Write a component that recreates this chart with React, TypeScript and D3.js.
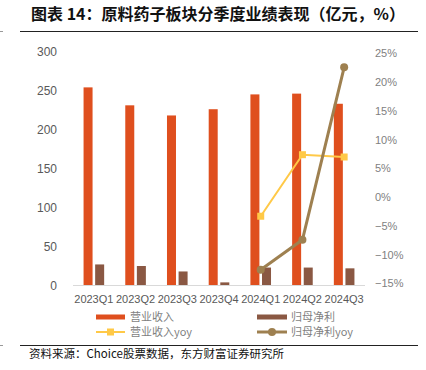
import React from 'react';
import * as d3 from 'd3';

const quarters = ['2023Q1', '2023Q2', '2023Q3', '2023Q4', '2024Q1', '2024Q2', '2024Q3'];
const revenue = [254, 231, 218, 226, 245, 246, 233];
const netProfit = [27, 25, 18, 4, 23, 23, 22];
const revenueYoy = [null, null, null, null, -3.3, 7.4, 7.0];
const profitYoy = [null, null, null, null, -12.6, -7.4, 22.6];
const leftTicks = [0, 50, 100, 150, 200, 250, 300];
const rightTicks = [-15, -10, -5, 0, 5, 10, 15, 20, 25];

const W = 426;
const H = 370;
const FONT = '"Noto Sans CJK SC", "Noto Sans", sans-serif';
const NUM = '"Liberation Sans", Arial, sans-serif';
const C_REV = '#DF4F1E';
const C_NP = '#8A5843';
const C_REVY = '#FFC947';
const C_NPY = '#9E8050';

const App = () => {
  const x = d3.scaleBand().domain(quarters).range([73, 365]);
  const yL = d3.scaleLinear().domain([0, 300]).range([285.5, 51.5]);
  const yR = d3.scaleLinear().domain([-15, 25]).range([283.5, 53.5]);
  const cx = (q: string) => (x(q) as number) + x.bandwidth() / 2;
  const bw = 9;
  const gap = 1.3;

  const revPts = quarters
    .map((q, i) => [cx(q), revenueYoy[i]] as [number, number | null])
    .filter(d => d[1] !== null) as [number, number][];
  const npPts = quarters
    .map((q, i) => [cx(q), profitYoy[i]] as [number, number | null])
    .filter(d => d[1] !== null) as [number, number][];
  const line = d3.line<[number, number]>().x(d => d[0]).y(d => yR(d[1]));

  return (
    <svg width={W} height={H} style={{ position: 'absolute', left: 0, top: 0, background: '#fff' }} fontFamily={FONT}>
      <text x={31} y={20} fontSize={16} fontWeight="bold" fill="#111">图表 14：原料药子板块分季度业绩表现（亿元，%）</text>
      <line x1={20} x2={418} y1={31.5} y2={31.5} stroke="#222" strokeWidth={1} />
      <line x1={0} x2={3} y1={31.5} y2={31.5} stroke="#999" strokeWidth={1} />

      {leftTicks.map(t => (
        <text key={'l' + t} x={57} y={yL(t)} dy="0.35em" textAnchor="end" fontSize={12} fontFamily={NUM} fill="#595959">{t}</text>
      ))}
      {rightTicks.map(t => (
        <text key={'r' + t} x={375} y={yR(t)} dy="0.35em" fontSize={11} fontFamily={NUM} fill="#7F7F7F">
          {(t < 0 ? '\u2212' + Math.abs(t) : t) + '%'}
        </text>
      ))}

      {quarters.map((q, i) => (
        <g key={q}>
          <rect x={cx(q) - gap - bw} y={yL(revenue[i])} width={bw} height={yL(0) - yL(revenue[i])} fill={C_REV} />
          <rect x={cx(q) + gap} y={yL(netProfit[i])} width={bw} height={yL(0) - yL(netProfit[i])} fill={C_NP} />
          <text x={cx(q)} y={299} dy="0.35em" textAnchor="middle" fontSize={11} fontFamily={NUM} fill="#595959">{q}</text>
        </g>
      ))}
      <line x1={73} x2={365} y1={285.5} y2={285.5} stroke="#D9D9D9" strokeWidth={1} />

      <path d={line(revPts) || ''} fill="none" stroke={C_REVY} strokeWidth={2} />
      {revPts.map((d, i) => (
        <rect key={'rs' + i} x={d[0] - 3.5} y={yR(d[1]) - 3.5} width={7} height={7} fill={C_REVY} />
      ))}
      <path d={line(npPts) || ''} fill="none" stroke={C_NPY} strokeWidth={3} />
      {npPts.map((d, i) => (
        <circle key={'nc' + i} cx={d[0]} cy={yR(d[1])} r={4} fill={C_NPY} />
      ))}

      {/* legend */}
      <rect x={96} y={314.5} width={29} height={5} fill={C_REV} />
      <text x={130} y={317} dy="0.35em" fontSize={11} fill="#7F7F7F">营业收入</text>
      <rect x={257} y={314.5} width={30} height={5} fill={C_NP} />
      <text x={291} y={317} dy="0.35em" fontSize={11} fill="#7F7F7F">归母净利</text>
      <line x1={96} x2={125} y1={332} y2={332} stroke={C_REVY} strokeWidth={2} />
      <rect x={107} y={328.5} width={7} height={7} fill={C_REVY} />
      <text x={130} y={332} dy="0.35em" fontSize={11} fill="#7F7F7F">营业收入yoy</text>
      <line x1={257} x2={287} y1={332} y2={332} stroke={C_NPY} strokeWidth={3} />
      <circle cx={272} cy={332} r={4} fill={C_NPY} />
      <text x={291} y={332} dy="0.35em" fontSize={11} fill="#7F7F7F">归母净利yoy</text>

      <line x1={20} x2={418} y1={345.5} y2={345.5} stroke="#222" strokeWidth={1} />
      <line x1={0} x2={3} y1={345.5} y2={345.5} stroke="#999" strokeWidth={1} />
      <text x={29} y={354} dy="0.35em" fontSize={11.5} fill="#111">资料来源：Choice股票数据，东方财富证券研究所</text>
    </svg>
  );
};

export default App;
